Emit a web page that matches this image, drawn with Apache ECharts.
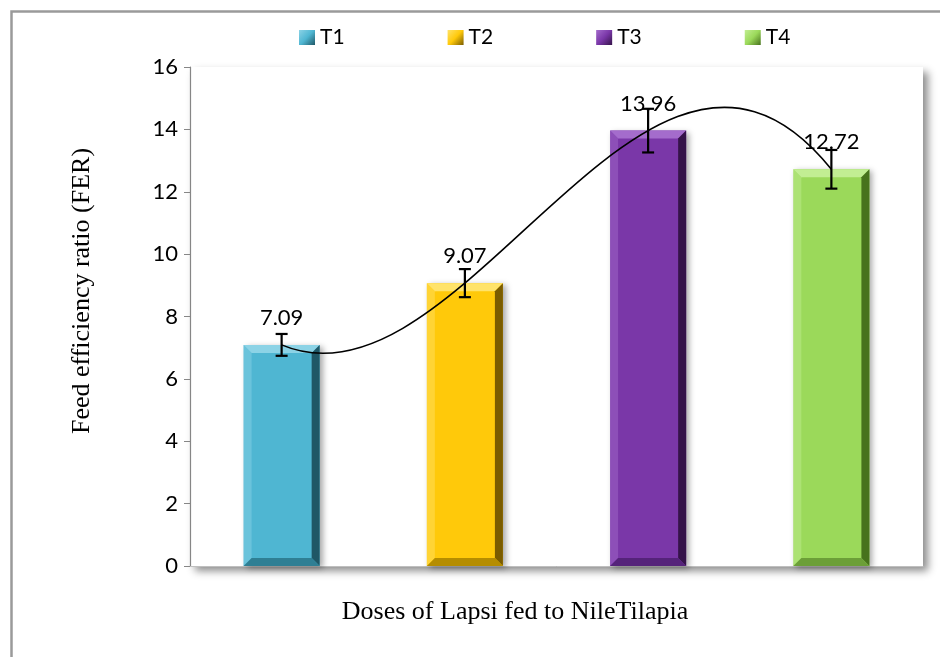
<!DOCTYPE html>
<html>
<head>
<meta charset="utf-8">
<script src="https://cdn.jsdelivr.net/npm/echarts@6/dist/echarts.min.js"></script>
<style>
html, body { margin: 0; padding: 0; background: #fff; }
#main { width: 940px; height: 657px; }
</style>
</head>
<body>
<div id="main"></div>
<script>
// data
var groups = ['T1', 'T2', 'T3', 'T4'];
var fer = [7.09, 9.07, 13.96, 12.72];
var ferErr = [0.35, 0.45, 0.70, 0.62];
var yMin = 0, yMax = 16, yStep = 2;

// bevel colours per treatment
var palette = [
    { base: '#4fb6d2', light: '#8cd3e6', dark: '#1f5766', shade: '#2f7f94' },
    { base: '#ffc90a', light: '#ffe36a', dark: '#7a5c00', shade: '#b58d00' },
    { base: '#7a37a8', light: '#a46ccc', dark: '#351349', shade: '#55237a' },
    { base: '#9bd95a', light: '#c2ee93', dark: '#47721c', shade: '#6c9f38' }
];

var chart = echarts.init(document.getElementById('main'));

function barItem(params, api) {
    var i = api.value(0), v = api.value(1);
    var top = api.coord([i, v]);
    var bot = api.coord([i, 0]);
    var w = api.size([1, 0])[0] * 0.415;
    var x0 = top[0] - w / 2, x1 = top[0] + w / 2, y0 = top[1], y1 = bot[1];
    var b = 8;
    var c = palette[params.seriesIndex];
    return {
        type: 'group',
        children: [
            { type: 'rect', shape: { x: x0, y: y0, width: w, height: y1 - y0 },
              style: { fill: c.base, shadowBlur: 6, shadowColor: 'rgba(0,0,0,0.35)', shadowOffsetX: 3, shadowOffsetY: 2 } },
            { type: 'polygon', shape: { points: [[x0, y0], [x1, y0], [x1 - b, y0 + b], [x0 + b, y0 + b]] },
              style: { fill: c.light } },
            { type: 'polygon', shape: { points: [[x0, y0], [x0 + b, y0 + b], [x0 + b, y1 - b], [x0, y1]] },
              style: { fill: c.light, opacity: 0.45 } },
            { type: 'polygon', shape: { points: [[x1, y0], [x1, y1], [x1 - b, y1 - b], [x1 - b, y0 + b]] },
              style: { fill: c.dark } },
            { type: 'polygon', shape: { points: [[x0, y1], [x0 + b, y1 - b], [x1 - b, y1 - b], [x1, y1]] },
              style: { fill: c.shade } },
            { type: 'text', x: top[0], y: y0 - 16, z2: 10,
              style: { text: v.toFixed(2), fill: '#000', font: '22px Lato', align: 'center', verticalAlign: 'bottom' } }
        ]
    };
}

function errItem(params, api) {
    var i = api.value(0);
    var lo = api.coord([i, api.value(1)]);
    var hi = api.coord([i, api.value(2)]);
    var cap = 6;
    var st = { stroke: '#000', lineWidth: 2.2 };
    return {
        type: 'group',
        children: [
            { type: 'line', shape: { x1: hi[0], y1: hi[1], x2: lo[0], y2: lo[1] }, style: st },
            { type: 'line', shape: { x1: hi[0] - cap, y1: hi[1], x2: hi[0] + cap, y2: hi[1] }, style: st },
            { type: 'line', shape: { x1: lo[0] - cap, y1: lo[1], x2: lo[0] + cap, y2: lo[1] }, style: st }
        ]
    };
}

// order-3 polynomial trendline through the four means, drawn as one cubic bezier
function trendItem(params, api) {
    if (params.dataIndex !== 0) return null;
    var y = fer, n = y.length - 1;
    var d0 = (-11 * y[0] + 18 * y[1] - 9 * y[2] + 2 * y[3]) / 6;
    var d3 = (-2 * y[0] + 9 * y[1] - 18 * y[2] + 11 * y[3]) / 6;
    var p0 = api.coord([0, y[0]]);
    var p1 = api.coord([1, y[0] + d0]);
    var p2 = api.coord([2, y[n] - d3]);
    var p3 = api.coord([n, y[n]]);
    return {
        type: 'bezierCurve',
        shape: { x1: p0[0], y1: p0[1], cpx1: p1[0], cpy1: p1[1], cpx2: p2[0], cpy2: p2[1], x2: p3[0], y2: p3[1] },
        style: { stroke: '#000', lineWidth: 1.6, fill: null }
    };
}

var series = groups.map(function (g, i) {
    return {
        name: g,
        type: 'custom',
        renderItem: barItem,
        encode: { x: 0, y: 1 },
        itemStyle: {
            color: new echarts.graphic.LinearGradient(0, 0, 1, 1, [
                { offset: 0, color: palette[i].light },
                { offset: 0.5, color: palette[i].base },
                { offset: 1, color: palette[i].dark }
            ])
        },
        data: [[i, fer[i]]]
    };
});

series.push({
    name: 'trend',
    type: 'custom',
    renderItem: trendItem,
    encode: { x: 0, y: 1 },
    clip: false,
    z: 5,
    data: groups.map(function (g, i) { return [i, fer[i]]; })
});

series.push({
    name: 'err',
    type: 'custom',
    renderItem: errItem,
    encode: { x: 0, y: [1, 2] },
    z: 6,
    data: groups.map(function (g, i) {
        return [i, fer[i] - ferErr[i], fer[i] + ferErr[i]];
    })
});

chart.setOption({
    animation: false,
    backgroundColor: '#fff',
    legend: {
        data: groups,
        top: 22,
        left: 294,
        itemWidth: 16,
        itemHeight: 15,
        itemGap: 103,
        icon: 'rect',
        textStyle: { fontFamily: 'Lato', fontSize: 21, color: '#000' }
    },
    grid: {
        left: 190, right: 17, top: 67, bottom: 91,
        show: true,
        backgroundColor: '#fff',
        borderWidth: 0,
        shadowColor: 'rgba(0,0,0,0.45)',
        shadowBlur: 8,
        shadowOffsetX: 5,
        shadowOffsetY: 5
    },
    xAxis: {
        type: 'category',
        data: groups,
        axisLabel: { show: false },
        axisTick: { show: false },
        axisLine: { show: true, lineStyle: { color: '#bfbfbf' } }
    },
    yAxis: {
        type: 'value',
        min: yMin,
        max: yMax,
        interval: yStep,
        axisLine: { show: true, lineStyle: { color: '#868686', width: 1.2 } },
        axisTick: { show: true, length: 6, lineStyle: { color: '#868686' } },
        axisLabel: { fontFamily: 'Lato', fontSize: 22, color: '#000', margin: 12 },
        splitLine: { show: false }
    },
    graphic: [
        { type: 'rect', left: 9, top: 9, z: -1, silent: true,
          shape: { width: 960, height: 700 },
          style: { fill: 'none', stroke: '#9a9a9a', lineWidth: 2.5 } },
        { type: 'text', x: 515, y: 612,
          style: { text: 'Doses of Lapsi fed to NileTilapia', font: '26px "Liberation Serif"', fill: '#000',
                   align: 'center', verticalAlign: 'middle' } },
        { type: 'text', x: 82, y: 291, rotation: Math.PI / 2,
          style: { text: 'Feed efficiency ratio (FER)', font: '26px "Liberation Serif"', fill: '#000',
                   align: 'center', verticalAlign: 'middle' } }
    ],
    series: series
});
</script>
</body>
</html>
